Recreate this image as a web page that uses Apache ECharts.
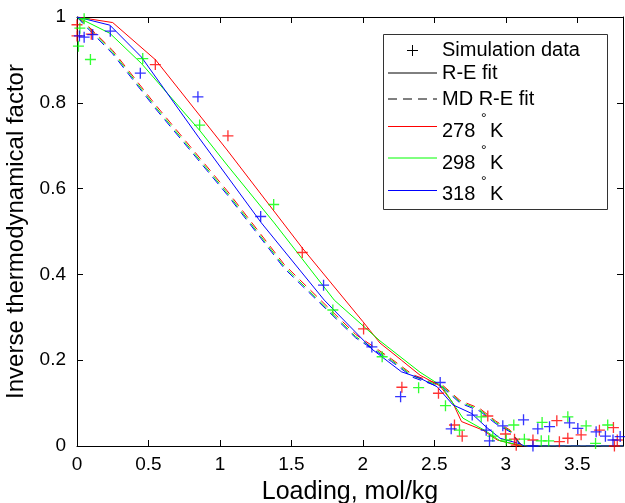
<!DOCTYPE html>
<html><head><meta charset="utf-8">
<script src="https://cdn.jsdelivr.net/npm/echarts@6/dist/echarts.min.js"></script>
<style>html,body{margin:0;padding:0;background:#fff}#c{width:625px;height:503px}</style>
</head><body><div id="c"></div>
<script>
// ---------- data ----------
const xTickLabels = ['0','0.5','1','1.5','2','2.5','3','3.5'];
const yTickLabels = ['0','0.2','0.4','0.6','0.8','1'];
const tempNames = ['278', '298', '318'];

// simulation data [loading, inverse thermodynamic factor]
const sim278 = [[0.0,0.982],[0.0,0.956],[0.1,0.96],[0.548,0.889],[1.056,0.723],[1.576,0.451],[2.005,0.273],[2.273,0.137],[2.529,0.123],[2.641,0.049],[2.695,0.023],[2.874,0.070],[2.998,0.028],[3.061,0.016],[3.073,0.002],[3.19,0.014],[3.357,0.059],[3.375,0.010],[3.434,0.018],[3.527,0.026],[3.655,0.037],[3.753,0.043],[3.76,0.0],[3.78,0.014]];
const sim298 = [[0.05,0.996],[0.02,0.974],[0.01,0.932],[0.094,0.901],[0.46,0.903],[0.858,0.748],[1.376,0.563],[1.79,0.317],[2.135,0.208],[2.39,0.136],[2.578,0.094],[2.676,0.037],[2.828,0.068],[2.909,0.023],[3.003,0.014],[3.056,0.049],[3.13,0.016],[3.248,0.012],[3.254,0.055],[3.30,0.012],[3.434,0.068],[3.562,0.047],[3.628,0.006],[3.713,0.049]];
const sim318 = [[0.017,0.956],[0.05,0.953],[0.11,0.959],[0.233,0.967],[0.443,0.869],[0.846,0.814],[1.285,0.535],[1.725,0.375],[2.063,0.231],[2.264,0.115],[2.541,0.148],[2.618,0.040],[2.765,0.072],[2.863,0.037],[2.886,0.012],[2.979,0.047],[3.124,0.061],[3.19,0.0],[3.224,0.040],[3.306,0.045],[3.446,0.054],[3.504,0.041],[3.632,0.033],[3.697,0.023],[3.75,0.014],[3.80,0.022]];

// R-E fit (solid)
const fit278 = [[0,1],[0.25,0.987],[0.55,0.90],[1.05,0.69],[1.58,0.46],[2.0,0.29],[2.12,0.24],[2.27,0.2],[2.4,0.165],[2.54,0.14],[2.63,0.1],[2.69,0.057],[2.84,0.037],[2.94,0.014],[3.07,0.003],[3.1,0],[3.82,0]];
const fit298 = [[0,1],[0.23,0.962],[0.45,0.892],[0.86,0.735],[1.05,0.655],[1.38,0.52],[1.8,0.34],[2.12,0.245],[2.4,0.172],[2.55,0.14],[2.63,0.1],[2.7,0.065],[2.86,0.035],[2.96,0.012],[3.1,0.002],[3.15,0],[3.82,0]];
const fit318 = [[0,1],[0.23,0.981],[0.45,0.907],[0.85,0.72],[1.29,0.52],[1.73,0.34],[2.07,0.224],[2.27,0.173],[2.4,0.158],[2.52,0.138],[2.63,0.096],[2.76,0.076],[2.86,0.045],[2.96,0.018],[3.1,0.005],[3.13,0],[3.82,0]];

// MD R-E fit (dashed)
const md278 = [[0,1],[0.05,0.988],[0.25,0.922],[0.55,0.795],[1.05,0.595],[1.45,0.423],[1.95,0.26],[2.2,0.203],[2.35,0.166],[2.5,0.148],[2.56,0.141],[2.68,0.106],[2.82,0.087],[2.93,0.058],[3.03,0.037],[3.1,0.006],[3.15,0],[3.82,0]];
const md298 = [[0,1],[0.05,0.985],[0.25,0.918],[0.55,0.79],[1.05,0.59],[1.45,0.418],[1.95,0.255],[2.2,0.2],[2.35,0.163],[2.5,0.145],[2.56,0.138],[2.68,0.103],[2.82,0.084],[2.93,0.055],[3.03,0.035],[3.1,0.005],[3.15,0],[3.82,0]];
const md318 = [[0,1],[0.05,0.982],[0.25,0.914],[0.55,0.786],[1.05,0.586],[1.45,0.414],[1.95,0.252],[2.2,0.197],[2.35,0.16],[2.5,0.142],[2.56,0.136],[2.68,0.1],[2.82,0.081],[2.93,0.052],[3.03,0.033],[3.1,0.004],[3.15,0],[3.82,0]];

// ---------- chart ----------
const FONT = 'Liberation Sans';
const FS = 19;      // tick labels
const FL = 20;      // legend
const FT = 25;      // x title
const FTY = 24;     // y title
const colors = ['#ff0000', '#00ff00', '#0000ff'];
const PLUS = 'path://M4.4,0H5.6V4.4H10V5.6H5.6V10H4.4V5.6H0V4.4H4.4Z';
const sims = [sim278, sim298, sim318];
const fits = [fit278, fit298, fit318];
const mds = [md278, md298, md318];

const series = [];
for (let i = 0; i < 3; i++) {
  series.push({ name: tempNames[i] + ' MD', type: 'line', data: mds[i], showSymbol: false, symbol: 'none',
    lineStyle: { color: colors[i], width: 1, type: [9, 6] }, z: 2, animation: false });
}
for (let i = 0; i < 3; i++) {
  series.push({ name: tempNames[i] + ' fit', type: 'line', data: fits[i], showSymbol: false, symbol: 'none',
    lineStyle: { color: colors[i], width: 1 }, z: 3, animation: false });
}
for (let i = 0; i < 3; i++) {
  series.push({ name: tempNames[i] + ' sim', type: 'scatter', data: sims[i], symbol: PLUS, symbolSize: 11,
    itemStyle: { color: colors[i] }, z: 4, animation: false });
}

const axisCommon = {
  axisLine: { show: true, onZero: false, lineStyle: { color: '#000', width: 1 } },
  axisTick: { show: true, inside: true, length: 6, lineStyle: { color: '#000' } },
  splitLine: { show: false }
};
const fmtX = v => { const k = xTickLabels.indexOf(String(+v.toFixed(3))); return k >= 0 ? xTickLabels[k] : ''; };
const fmtY = v => { const k = yTickLabels.indexOf(String(+v.toFixed(3))); return k >= 0 ? yTickLabels[k] : ''; };

const legendX = 383, legendY = 34, lineX0 = 388, lineX1 = 437, textX = 442;
const legendRows = [
  { kind: 'plus', ly: 50, ty: 50, text: 'Simulation data', color: '#000' },
  { kind: 'solid', ly: 72.5, ty: 73, text: 'R-E fit', color: '#000' },
  { kind: 'dash', ly: 98.5, ty: 99, text: 'MD R-E fit', color: '#000' },
  { kind: 'solid', ly: 126, ty: 131, text: tempNames[0], color: colors[0], deg: true },
  { kind: 'solid', ly: 157.5, ty: 163, text: tempNames[1], color: colors[1], deg: true },
  { kind: 'solid', ly: 190, ty: 194, text: tempNames[2], color: colors[2], deg: true }
];
const graphics = [{
  type: 'rect', shape: { x: legendX + 0.5, y: legendY + 0.5, width: 224, height: 175 },
  style: { fill: '#fff', stroke: '#333', lineWidth: 1 }, z: 100
}];
legendRows.forEach(r => {
  if (r.kind === 'plus') {
    graphics.push({ type: 'line', shape: { x1: 407, y1: r.ly + 0.5, x2: 418, y2: r.ly + 0.5 }, style: { stroke: '#000', lineWidth: 1 }, z: 101 });
    graphics.push({ type: 'line', shape: { x1: 412.5, y1: r.ly - 5, x2: 412.5, y2: r.ly + 6 }, style: { stroke: '#000', lineWidth: 1 }, z: 101 });
  } else {
    graphics.push({ type: 'line', shape: { x1: lineX0, y1: r.ly + 0.5, x2: lineX1, y2: r.ly + 0.5 },
      style: { stroke: r.color, lineWidth: 1, lineDash: r.kind === 'dash' ? [9, 6] : null }, z: 101 });
  }
  graphics.push({ type: 'text', x: textX, y: r.ty, style: { text: r.text, font: FL + 'px ' + FONT, fill: '#000', verticalAlign: 'middle', align: 'left' }, z: 102 });
  if (r.deg) {
    graphics.push({ type: 'text', x: 481, y: r.ty - 12, style: { text: '°', font: '14px ' + FONT, fill: '#000', verticalAlign: 'middle', align: 'left' }, z: 102 });
    graphics.push({ type: 'text', x: 490, y: r.ty, style: { text: 'K', font: FL + 'px ' + FONT, fill: '#000', verticalAlign: 'middle', align: 'left' }, z: 102 });
  }
});

const chart = echarts.init(document.getElementById('c'), null, { renderer: 'canvas' });
chart.setOption({
  animation: false,
  backgroundColor: '#fff',
  textStyle: { fontFamily: FONT },
  grid: { left: 77, right: 2, top: 17, bottom: 57, containLabel: false, outerBoundsMode: 'none' },
  xAxis: [
    Object.assign({ type: 'value', position: 'bottom', min: 0, max: 3.82, interval: 0.5,
      name: 'Loading, mol/kg', nameLocation: 'middle', nameGap: 34,
      nameTextStyle: { fontSize: FT, color: '#000', fontFamily: FONT },
      axisLabel: { show: true, margin: 9, fontSize: FS, color: '#000', fontFamily: FONT, formatter: fmtX, showMaxLabel: true } }, axisCommon),
    Object.assign({ type: 'value', position: 'top', min: 0, max: 3.82, interval: 0.5,
      axisLabel: { show: false } }, axisCommon)
  ],
  yAxis: [
    Object.assign({ type: 'value', position: 'left', min: 0, max: 1, interval: 0.2,
      name: 'Inverse thermodynamical factor', nameLocation: 'middle', nameGap: 41,
      nameTextStyle: { fontSize: FTY, color: '#000', fontFamily: FONT },
      axisLabel: { show: true, margin: 11, fontSize: FS, color: '#000', fontFamily: FONT, formatter: fmtY } }, axisCommon),
    Object.assign({ type: 'value', position: 'right', min: 0, max: 1, interval: 0.2,
      axisLabel: { show: false } }, axisCommon)
  ],
  series: series,
  graphic: graphics
});
</script>
</body></html>
